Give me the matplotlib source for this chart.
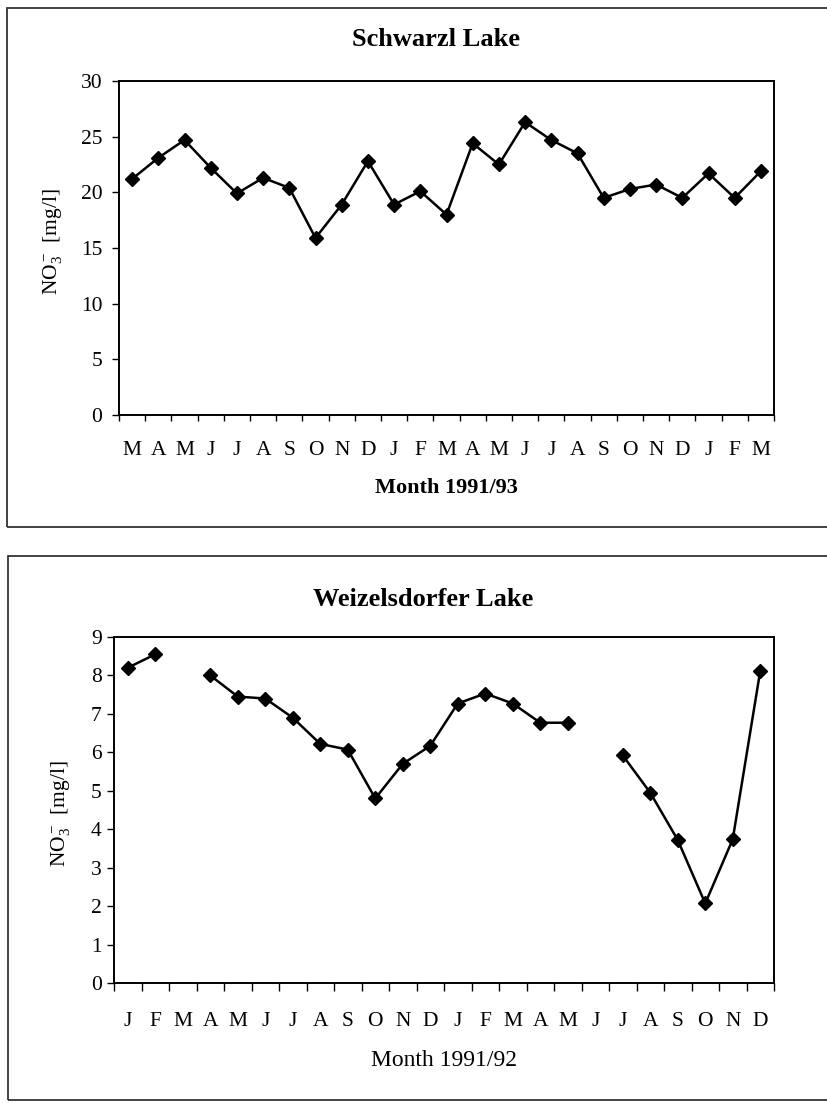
import numpy as np
from matplotlib import pyplot as plt
from matplotlib.patches import Rectangle

plt.rcParams['font.family'] = ['Liberation Serif', 'DejaVu Serif']
plt.rcParams['mathtext.fontset'] = 'custom'
plt.rcParams['mathtext.rm'] = 'Liberation Serif'
plt.rcParams['mathtext.it'] = 'Liberation Serif:italic'

# Schwarzl Lake, Mar 1991 - Mar 1993
months_a = ["M", "A", "M", "J", "J", "A", "S", "O", "N", "D", "J", "F",
            "M", "A", "M", "J", "J", "A", "S", "O", "N", "D", "J", "F", "M"]
no3_a = [21.2, 23.1, 24.7, 22.2, 19.9, 21.3, 20.4, 15.9, 18.9, 22.8, 18.9, 20.1,
         18.0, 24.4, 22.5, 26.3, 24.7, 23.5, 19.5, 20.3, 20.7, 19.5, 21.7, 19.5, 21.9]

# Weizelsdorfer Lake, Jan 1991 - Dec 1992 (nan = no sample)
months_b = ["J", "F", "M", "A", "M", "J", "J", "A", "S", "O", "N", "D",
            "J", "F", "M", "A", "M", "J", "J", "A", "S", "O", "N", "D"]
no3_b = [8.2, 8.55, np.nan, 8.0, 7.45, 7.4, 6.9, 6.22, 6.07, 4.8, 5.7, 6.17,
         7.27, 7.53, 7.27, 6.77, 6.77, np.nan, 5.92, 4.95, 3.72, 2.07, 3.74, 8.12]

W, H = 827, 1103


def px_box(l, t, r, b):
    return [l / W, 1 - b / H, (r - l) / W, (b - t) / H]


def draw_panel(ax, months, values, ymax, ystep, xlabel, xlabel_bold, ypad, xpad, xtick_len):
    n = len(months)
    x = np.arange(n)
    ax.plot(x, values, color="black", lw=1.8, marker="D", ms=7.5, mfc="black", mec="black")
    ax.set_xlim(-0.5, n - 0.5)
    ax.set_ylim(0, ymax)
    ax.set_yticks(np.arange(0, ymax + 1, ystep))
    ax.set_xticks(x)
    ax.set_xticklabels(months)
    ax.set_xticks(np.arange(n + 1) - 0.5, minor=True)
    ax.tick_params(axis="x", which="major", length=0, pad=xpad, labelsize=15.5)
    ax.tick_params(axis="x", which="minor", length=xtick_len, width=1.0, direction="out")
    ax.tick_params(axis="y", length=5, width=1.0, direction="out", pad=ypad, labelsize=15.5)
    for s in ax.spines.values():
        s.set_linewidth(1.4)
    ax.set_ylabel(r"NO$_3^{\,\mathregular{-}}$  [mg/l]", fontsize=15.5, va="center")
    ax.set_xlabel(xlabel, fontsize=16 if xlabel_bold else 17,
                  fontweight="bold" if xlabel_bold else "normal", va="center")


fig = plt.figure(figsize=(8.27, 11.03), dpi=100)

# panel frames
fig.add_artist(Rectangle((7 / W, 1 - 527 / H), 830 / W, 519 / H, transform=fig.transFigure,
                         fill=False, lw=1.3, ec="#333333"))
fig.add_artist(Rectangle((8 / W, 1 - 1100 / H), 830 / W, 544 / H, transform=fig.transFigure,
                         fill=False, lw=1.3, ec="#333333"))

ax1 = fig.add_axes(px_box(119, 81, 774, 415))
draw_panel(ax1, months_a, no3_a, 30, 5, "Month 1991/93", True, 7, 19, 4)
ax1.yaxis.set_label_coords((53 - 119) / 655, 0.52)
ax1.xaxis.set_label_coords(0.5, (415 - 488) / 334)
fig.text(436 / W, 1 - 39 / H, "Schwarzl Lake", fontsize=19, fontweight="bold",
         ha="center", va="center")

ax2 = fig.add_axes(px_box(114, 637, 774, 983))
draw_panel(ax2, months_b, no3_b, 9, 1, "Month 1991/92", False, 4, 21, 5.5)
ax2.yaxis.set_label_coords((60 - 114) / 660, 0.49)
ax2.xaxis.set_label_coords(0.5, (983 - 1060) / 346)
fig.text(423 / W, 1 - 599 / H, "Weizelsdorfer Lake", fontsize=19, fontweight="bold",
         ha="center", va="center")

fig.savefig("out.png", dpi=100)
